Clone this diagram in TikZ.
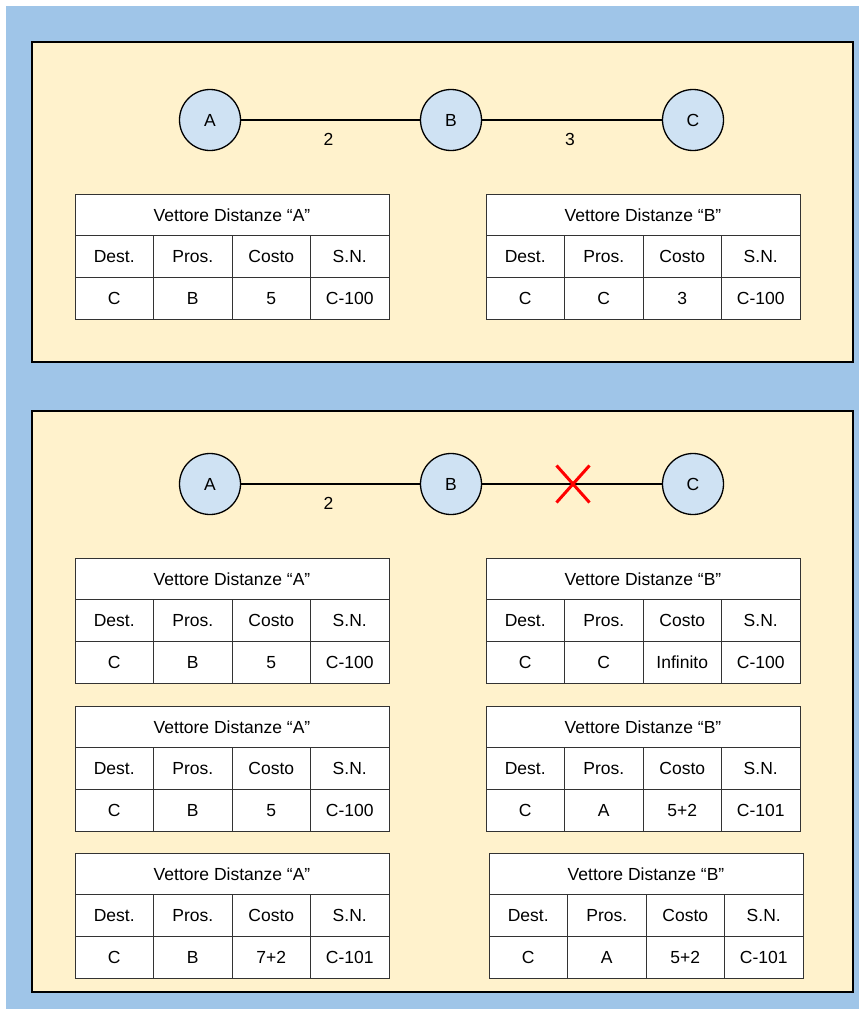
\documentclass[tikz,border=0pt]{standalone}
\usepackage{fontspec}
\setmainfont{Liberation Sans}
\usetikzlibrary{positioning,shapes.misc}
\definecolor{dvSky}{HTML}{9FC5E8}
\definecolor{dvSand}{HTML}{FFF2CC}
\definecolor{dvNode}{HTML}{CFE2F3}
\definecolor{dvInk}{HTML}{333333}
\tikzset{
  dv panel/.style={draw=black, fill=dvSand, line width=1.5pt},
  dv router/.style={circle, draw=black, fill=dvNode, line width=1.3pt, minimum size=61pt, inner sep=0pt, font=\fontsize{17.5}{20}\selectfont},
  dv link/.style={draw=black, line width=1.5pt},
  dv weight/.style={midway, xshift=-2pt, yshift=-19pt, font=\fontsize{17.5}{20}\selectfont},
  dv title/.style={draw=dvInk, fill=white, line width=1pt, minimum width=314pt, minimum height=41.7pt, inner sep=0pt, outer sep=0pt, font=\fontsize{17.5}{20}\selectfont},
  dv cell/.style={dv title, minimum width=78.5pt},
  dv cut/.style={cross out, draw=red, line width=3pt, minimum width=30pt, minimum height=34pt, inner sep=0pt},
}
% distance vector table: name, top left corner, owner, then dest / next hop / cost / seq. number
\newcommand{\dvtable}[7]{%
  \node[dv title, anchor=north west] (#1) at (#2) {Vettore Distanze “#3”};
  \node[dv cell, anchor=north west] (#1-h1) at (#1.south west) {Dest.};
  \node[dv cell, right=0pt of #1-h1] (#1-h2) {Pros.};
  \node[dv cell, right=0pt of #1-h2] (#1-h3) {Costo};
  \node[dv cell, right=0pt of #1-h3] (#1-h4) {S.N.};
  \node[dv cell, below=0pt of #1-h1] (#1-d1) {#4};
  \node[dv cell, right=0pt of #1-d1] (#1-d2) {#5};
  \node[dv cell, right=0pt of #1-d2] (#1-d3) {#6};
  \node[dv cell, right=0pt of #1-d3] (#1-d4) {#7};
}

\begin{document}
\begin{tikzpicture}[x=1pt,y=-1pt]
  \useasboundingbox (0,0) rectangle (859,1009);
  \fill[dvSky] (6,6) rectangle (859,1009);
  \draw[dv panel] (32,42) rectangle (853,362);
  \draw[dv panel] (32,411) rectangle (853,992);

  % before the failure
  \node[dv router] (a1) at (210,120) {A};
  \node[dv router] (b1) at (451,120) {B};
  \node[dv router] (c1) at (693,120) {C};
  \draw[dv link] (a1) -- node[dv weight] {2} (b1);
  \draw[dv link] (b1) -- node[dv weight] {3} (c1);
  \dvtable{ta}{75,194}{A}{C}{B}{5}{C-100}
  \dvtable{tb}{486,194}{B}{C}{C}{3}{C-100}

  % link B-C goes down
  \node[dv router] (a2) at (210,484) {A};
  \node[dv router] (b2) at (451,484) {B};
  \node[dv router] (c2) at (693,484) {C};
  \draw[dv link] (a2) -- node[dv weight] {2} (b2);
  \draw[dv link] (b2) -- (c2);
  \node[dv cut] (cut) at (573,484) {};
  \dvtable{ta1}{75,558}{A}{C}{B}{5}{C-100}
  \dvtable{ta2}{75,706}{A}{C}{B}{5}{C-100}
  \dvtable{ta3}{75,853}{A}{C}{B}{7+2}{C-101}
  \dvtable{tb1}{486,558}{B}{C}{C}{Infinito}{C-100}
  \dvtable{tb2}{486,706}{B}{C}{A}{5+2}{C-101}
  \dvtable{tb3}{489,853}{B}{C}{A}{5+2}{C-101}
\end{tikzpicture}
\end{document}
